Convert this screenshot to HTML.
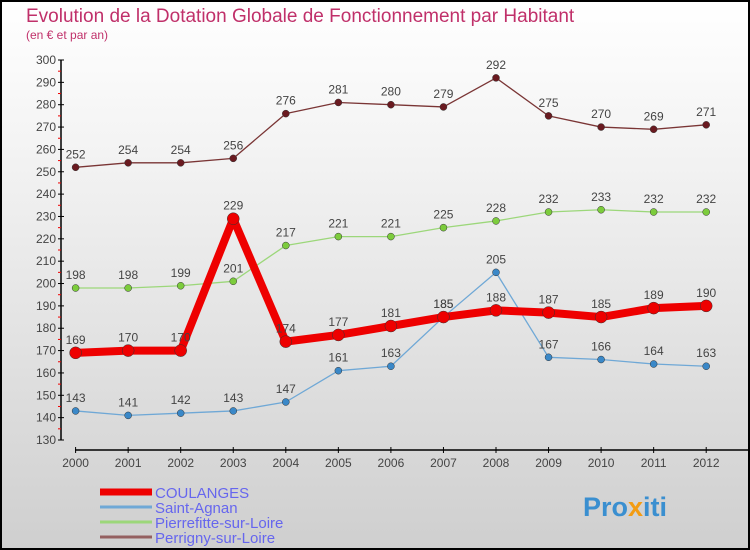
<!DOCTYPE html>
<html><head><meta charset="utf-8"><style>
body{margin:0;width:750px;height:550px;overflow:hidden;font-family:"Liberation Sans",sans-serif}
#c{position:absolute;left:0;top:0;width:746px;height:546px;border:2px solid #000;background:linear-gradient(#fff 0%,#f2f2f2 30%,#cfcfcf 100%)}
</style></head><body>
<div id="c">
<svg width="746" height="546" viewBox="2 2 746 546" id="svg" style="position:absolute;left:0;top:0">
<text x="26" y="22" font-size="19" fill="#c0306a">Evolution de la Dotation Globale de Fonctionnement par Habitant</text>
<text x="26" y="39" font-size="12" fill="#c0306a">(en € et par an)</text>
<g id="axes"></g><g id="series"></g><g id="legend"></g>
<text x="583" y="516" font-size="27" font-weight="bold" fill="#3a8fd0">Pro<tspan fill="#f39c12">x</tspan>iti</text>
</svg></div>
<script>
const years=[2000,2001,2002,2003,2004,2005,2006,2007,2008,2009,2010,2011,2012];
const coulanges=[169,170,170,229,174,177,181,185,188,187,185,189,190];
const saintAgnan=[143,141,142,143,147,161,163,185,205,167,166,164,163];
const pierrefitte=[198,198,199,201,217,221,221,225,228,232,233,232,232];
const perrigny=[252,254,254,256,276,281,280,279,292,275,270,269,271];
const yTicks=[130,140,150,160,170,180,190,200,210,220,230,240,250,260,270,280,290,300];
const NS="http://www.w3.org/2000/svg";
const X=i=>75.6+i*52.55;
const Y=v=>60+(300-v)*(380/170);
function mk(p,t,a){const e=document.createElementNS(NS,t);for(const k in a)e.setAttribute(k,a[k]);p.appendChild(e);return e;}
const ax=document.getElementById('axes');
const yl=mk(ax,'line',{x1:61,y1:60,x2:61,y2:440,stroke:'#000','stroke-width':1.5});


yTicks.forEach(v=>{
  mk(ax,'line',{x1:58,y1:Y(v),x2:64,y2:Y(v),stroke:'#000'});
  if(v<300)mk(ax,'line',{x1:58,y1:Y(v+5),x2:61,y2:Y(v+5),stroke:'#e00'});
  const t=mk(ax,'text',{x:56,y:Y(v)+4,'font-size':12,fill:'#444','text-anchor':'end'});t.textContent=v;
  
  
});
const xl=mk(ax,'line',{x1:75,y1:450,x2:748,y2:450,stroke:'#000','stroke-width':1.5});


years.forEach((y,i)=>{
  mk(ax,'line',{x1:X(i),y1:447,x2:X(i),y2:453,stroke:'#000'});
  const t=mk(ax,'text',{x:X(i),y:467,'font-size':12,fill:'#444','text-anchor':'middle'});t.textContent=y;
  
  
});
const sg=document.getElementById('series');
function series(d,name,col,dot,w,r){
  const g=mk(sg,'g',{});
  
  
  mk(g,'polyline',{points:d.map((v,i)=>X(i)+','+Y(v)).join(' '),fill:'none',stroke:col,'stroke-width':w,'stroke-linejoin':'round'});
  d.forEach((v,i)=>{
    const c=mk(g,'circle',{cx:X(i),cy:Y(v),r:r,fill:dot,stroke:'#333','stroke-width':0.5});
    
    
    const t=mk(g,'text',{x:X(i),y:Y(v)-9,'font-size':12,fill:'#444','text-anchor':'middle'});t.textContent=v;
    
    
  });
}
series(perrigny,'perrigny','#7a3535','#6a1a20',1.3,3.5);
series(pierrefitte,'pierrefitte','#9cd77a','#7ccc3c',1.3,3.5);
series(saintAgnan,'saint-agnan','#6fa8d6','#3a88c8',1.3,3.5);
series(coulanges,'coulanges','#ee0000','#ee0000',8,6);
const lg=document.getElementById('legend');
[['COULANGES','#ee0000',7],['Saint-Agnan','#6fa8d6',3],['Pierrefitte-sur-Loire','#9cd77a',3],['Perrigny-sur-Loire','#946060',3]].forEach((e,i)=>{
  const y=492+i*15;
  const g=mk(lg,'g',{});
  
  
  mk(g,'line',{x1:100,y1:y,x2:152,y2:y,stroke:e[1],'stroke-width':e[2]});
  const t=mk(g,'text',{x:155,y:y+6,'font-size':15,fill:'#6666ee'});t.textContent=e[0];
});
</script>
</body></html>
